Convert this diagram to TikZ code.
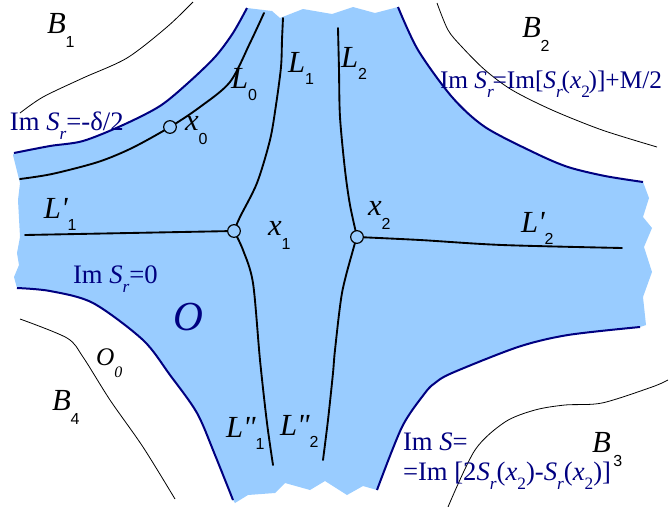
\documentclass[tikz,border=0pt]{standalone}
\usepackage{fontspec}
\setmainfont{Liberation Serif}
\newfontfamily\subfont{Liberation Sans}
\definecolor{fillblue}{HTML}{99CCFF}
\definecolor{navyline}{HTML}{000080}
% black italic label with sans subscript: [lowering]{main}{sub}
\newcommand\blk[3][9pt]{{\itshape #2}\raisebox{-#1}{\fontsize{12}{12}\selectfont\subfont #3}}
% navy subscript
\newcommand\nsub[1]{\raisebox{-7pt}{\fontsize{13}{13}\selectfont #1}}
\newcommand\dprime{\textquotesingle\kern-0.5pt\textquotesingle}
\begin{document}
\begin{tikzpicture}[x=0.75pt,y=-0.75pt,
  thickline/.style={line width=1.4pt, line join=round, line cap=round},
  edgecurve/.style={draw=navyline, line width=1.5pt},
  thinline/.style={line width=0.6pt},
  dot/.style={circle, draw, line width=0.9pt, fill=fillblue, minimum size=9.5pt, inner sep=0pt},
  lab/.style={anchor=base west, inner sep=0pt, outer sep=0pt, font=\fontsize{23}{27}\selectfont},
  navylab/.style={anchor=base west, inner sep=0pt, outer sep=0pt, text=navyline, font=\fontsize{20}{24}\selectfont}]
\useasboundingbox (0,0) rectangle (669,507);

% region O
\fill[fillblue] plot[smooth] coordinates {(14,153) (50,146) (83,141) (123,125) (160,106) (188,83) (215,57) (233,33) (247,8)}
  -- (272,11) -- (280,18) -- (303,9) -- (332,14) -- (353,7) -- (375,13)
  -- plot[smooth] coordinates {(398,7) (418,50) (452,97) (485,127) (535,153) (568,167) (605,176) (643,182)}
  -- (649,198) -- (643,217) -- (652,228) -- (644,247) -- (652,272) -- (643,297) -- (646,325)
  -- plot[smooth] coordinates {(640,327) (568,335) (518,347) (452,373) (435,383) (425,393) (402,427) (377,490)}
  -- (363,486) -- (347,495) -- (325,481) -- (310,490) -- (285,483) -- (275,493) -- (248,495) -- (235,503)
  -- plot[smooth] coordinates {(233,500) (215,455) (197,413) (170,375) (143,340) (93,303) (50,291) (17,288)}
  -- (14,277) -- (19,265) -- (17,253) -- (20,237) -- (18,200) -- (20,183) -- (13,155) -- cycle;

% navy boundary curves
\draw[edgecurve] plot[smooth] coordinates {(14,153) (50,146) (83,141) (123,125) (160,106) (188,83) (215,57) (233,33) (247,8)};
\draw[edgecurve] plot[smooth] coordinates {(398,7) (418,50) (452,97) (485,127) (535,153) (568,167) (605,176) (643,182)};
\draw[edgecurve] plot[smooth] coordinates {(640,327) (568,335) (518,347) (452,373) (435,383) (425,393) (402,427) (377,490)};
\draw[edgecurve] plot[smooth] coordinates {(233,500) (215,455) (197,413) (170,375) (143,340) (93,303) (50,291) (17,288)};

% thin boundaries of B regions
\draw[thinline] plot[smooth] coordinates {(20,113) (43,97) (83,78) (127,58) (167,27) (193,2)};
\draw[thinline] plot[smooth] coordinates {(437,3) (448,30) (462,47) (485,70) (512,90) (552,110) (602,130) (657,147)};
\draw[thinline] plot[smooth] coordinates {(20,319) (67,338) (83,357) (110,400) (143,447) (175,499)};
\draw[thinline] plot[smooth] coordinates {(448,507) (475,450) (505,422) (535,410) (565,405) (602,403) (652,387) (668,380)};

% critical points
\coordinate (c0) at (170,127);
\coordinate (c1) at (234,231);
\coordinate (c2) at (357,237);

% lines
\draw[thickline] plot[smooth] coordinates {(20,179) (52,174) (98,162) (132,148) (c0) (200,107) (230,82) (250,43) (264,13)};
\draw[thickline] plot[smooth] coordinates {(283,18) (282,40) (281,67) (276,105) (270,140) (257,183) (240,217) (c1)};
\draw[thickline] (25,235) -- (c1);
\draw[thickline] plot[smooth] coordinates {(c1) (243,250) (253,283) (260,360) (267,423) (273,465)};
\draw[thickline] plot[smooth] coordinates {(338,28) (339,70) (340,117) (345,170) (350,205) (c2)};
\draw[thickline] plot[smooth] coordinates {(c2) (420,240) (502,245) (622,248)};
\draw[thickline] plot[smooth] coordinates {(c2) (353,250) (342,293) (335,350) (333,373) (328,420) (323,460)};

\node[dot] (x0) at (c0) {};
\node[dot] (x1) at (c1) {};
\node[dot] (x2) at (c2) {};

% black labels
\node[lab] (lB1) at (47,33) {\blk[11pt]{B}{1}};
\node[lab] (lB2) at (522,37) {\blk[11pt]{B}{2}};
\node[lab] (lB3) at (592,452) {\blk[11pt]{B}{\hspace{2pt}3}};
\node[lab] (lB4) at (52,410) {\blk[11pt]{B}{4}};
\node[lab] (lL0) at (231,88) {\blk{L}{0}};
\node[lab] (lL1) at (288,72) {\blk{L}{1}};
\node[lab] (lL2) at (341,67) {\blk{L}{2}};
\node[lab] (lx0) at (185,130) {\blk[11pt]{x}{0}};
\node[lab] (lx1) at (268,235) {\blk[11pt]{x}{1}};
\node[lab] (lx2) at (368,215) {\blk[11pt]{x}{2}};
\node[lab] (lLp1) at (44,218) {\blk{L\textquotesingle}{1}};
\node[lab] (lLp2) at (521,232) {\blk{L\textquotesingle}{2}};
\node[lab] (lLpp1) at (226,437) {\blk{L\dprime}{1}};
\node[lab] (lLpp2) at (280,435) {\blk{L\dprime}{2}};
\node[lab, font=\fontsize{19}{22}\selectfont] (lO0) at (96,365) {\textit{O}\raisebox{-9pt}{\fontsize{12}{12}\selectfont\itshape 0}};
\node[lab, text=navyline, font=\fontsize{31}{34}\selectfont] (lO) at (173,330) {\textit{O}};

% navy labels
\node[navylab] (t1) at (10,130) {Im \textit{S}\nsub{\textit{r}}=-δ/2};
\node[navylab, font=\fontsize{19}{23}\selectfont] (t2) at (440,88) {Im \textit{S}\nsub{\textit{r}}\kern-1pt=Im[\textit{S}\nsub{\textit{r}}\kern-1pt(\textit{x}\nsub{2}\kern-1pt)]+M/2};
\node[navylab] (t3) at (73,283) {Im \textit{S}\nsub{\textit{r}}=0};
\node[navylab] (t4) at (403,450) {Im \textit{S}=};
\node[navylab] (t5) at (403,480) {=Im [2\textit{S}\nsub{\textit{r}}(\textit{x}\nsub{2})-\textit{S}\nsub{\textit{r}}(\textit{x}\nsub{2})]};
\end{tikzpicture}
\end{document}
